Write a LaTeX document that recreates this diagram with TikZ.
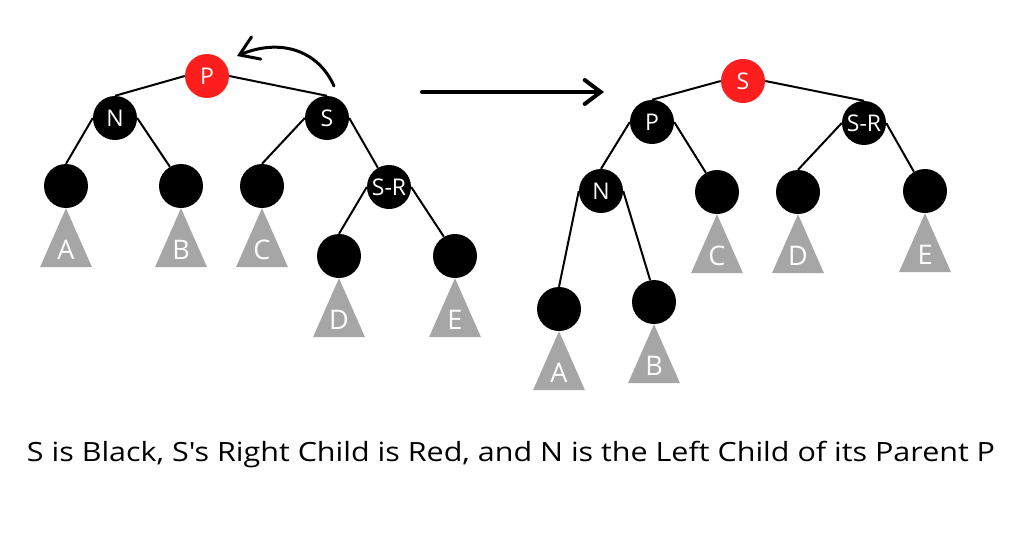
\documentclass[tikz,border=0pt]{standalone}
\usepackage{fontspec}
\setmainfont{Open Sans}
\newfontfamily\keyfont{Open Sans}
\newfontfamily\captionfont[FakeStretch=1.15]{Open Sans}
\usetikzlibrary{arrows.meta}
\definecolor{rbred}{RGB}{255,30,30}
\definecolor{subtreegray}{RGB}{166,166,166}
\tikzstyle{rbnode} = [circle, fill=black, minimum size=44pt, inner sep=0pt, text=white, font=\keyfont\fontsize{23}{23}\selectfont]
\tikzstyle{rednode} = [rbnode, fill=rbred]
\tikzstyle{treeline} = [line width=2pt]
\tikzstyle{subtreefill} = [fill=subtreegray]
\tikzstyle{subtreelabel} = [text=white, font=\keyfont\fontsize{27}{27}\selectfont]
\tikzstyle{bigarrow} = [line width=4pt, line cap=round, -{Straight Barb[length=16pt, width=24pt, line cap=round]}]
\tikzstyle{rotarrow} = [line width=3pt, line cap=round, -{Straight Barb[length=18pt, width=24pt, line cap=round]}]

\begin{document}
\begin{tikzpicture}[x=1pt, y=-1pt]
            \fill[white] (0,0) rectangle (1024,546);
            \useasboundingbox (0,0) rectangle (1024,546);

            % before the rotation
            \node[rednode] (P) at (207,76) {P};
            \node[rbnode] (N) at (115,118) {N};
            \node[rbnode] (S) at (327,118) {S};
            \node[rbnode] (NL) at (66,186) {};
            \node[rbnode] (NR) at (181,186) {};
            \node[rbnode] (SL) at (262,186) {};
            \node[rbnode] (SR) at (389,187) {S-R};
            \node[rbnode] (SRL) at (339,256) {};
            \node[rbnode] (SRR) at (455,256) {};

            \draw[treeline] (P.west) -- (N.north);
            \draw[treeline] (P.east) -- (S.north);
            \draw[treeline] (N.west) -- (NL.north);
            \draw[treeline] (N.east) -- (NR.120);
            \draw[treeline] (S.west) -- (SL.north);
            \draw[treeline] (S.east) -- (SR.120);
            \draw[treeline] (SR.west) -- (SRL.north);
            \draw[treeline] (SR.east) -- (SRR.120);

            \fill[subtreefill] (NL.south) -- ++(-26,59) -- ++(52,0) -- cycle;
            \node[subtreelabel] at ([yshift=-42pt]NL.south) {A};
            \fill[subtreefill] (NR.south) -- ++(-26,59) -- ++(52,0) -- cycle;
            \node[subtreelabel] at ([yshift=-42pt]NR.south) {B};
            \fill[subtreefill] (SL.south) -- ++(-26,59) -- ++(52,0) -- cycle;
            \node[subtreelabel] at ([yshift=-42pt]SL.south) {C};
            \fill[subtreefill] (SRL.south) -- ++(-26,59) -- ++(52,0) -- cycle;
            \node[subtreelabel] at ([yshift=-42pt]SRL.south) {D};
            \fill[subtreefill] (SRR.south) -- ++(-26,59) -- ++(52,0) -- cycle;
            \node[subtreelabel] at ([yshift=-42pt]SRR.south) {E};

            \coordinate (rotfrom) at (334,86);
            \coordinate (rotto) at (237,56);
            \draw[rotarrow] (rotfrom) .. controls (318,50) and (280,38) .. (rotto);

            % the arrow
            \coordinate (stepfrom) at (422,92);
            \coordinate (stepto) at (604,92);
            \draw[bigarrow] (stepfrom) -- (stepto);

            % after the rotation
            \node[rednode] (rS) at (743,81) {S};
            \node[rbnode] (rP) at (652,122) {P};
            \node[rbnode] (rSR) at (864,123) {S-R};
            \node[rbnode] (rN) at (601,191) {N};
            \node[rbnode] (rPR) at (717,192) {};
            \node[rbnode] (rSRL) at (798,192) {};
            \node[rbnode] (rSRR) at (925,191) {};
            \node[rbnode] (rNL) at (559,309) {};
            \node[rbnode] (rNR) at (654,302) {};

            \draw[treeline] (rS.west) -- (rP.north);
            \draw[treeline] (rS.east) -- (rSR.north);
            \draw[treeline] (rP.west) -- (rN.north);
            \draw[treeline] (rP.east) -- (rPR.120);
            \draw[treeline] (rSR.west) -- (rSRL.north);
            \draw[treeline] (rSR.east) -- (rSRR.120);
            \draw[treeline] (rN.west) -- (rNL.north);
            \draw[treeline] (rN.east) -- (rNR.100);

            \fill[subtreefill] (rNL.south) -- ++(-26,59) -- ++(52,0) -- cycle;
            \node[subtreelabel] at ([yshift=-42pt]rNL.south) {A};
            \fill[subtreefill] (rNR.south) -- ++(-26,59) -- ++(52,0) -- cycle;
            \node[subtreelabel] at ([yshift=-42pt]rNR.south) {B};
            \fill[subtreefill] (rPR.south) -- ++(-26,59) -- ++(52,0) -- cycle;
            \node[subtreelabel] at ([yshift=-42pt]rPR.south) {C};
            \fill[subtreefill] (rSRL.south) -- ++(-26,59) -- ++(52,0) -- cycle;
            \node[subtreelabel] at ([yshift=-42pt]rSRL.south) {D};
            \fill[subtreefill] (rSRR.south) -- ++(-26,59) -- ++(52,0) -- cycle;
            \node[subtreelabel] at ([yshift=-42pt]rSRR.south) {E};

            \node[anchor=base, font=\captionfont\fontsize{26.5}{30}\selectfont] (caption) at (511,461)
                {S is Black, S\textquotesingle s Right Child is Red, and N is the Left Child of its Parent P};
\end{tikzpicture}
\end{document}
